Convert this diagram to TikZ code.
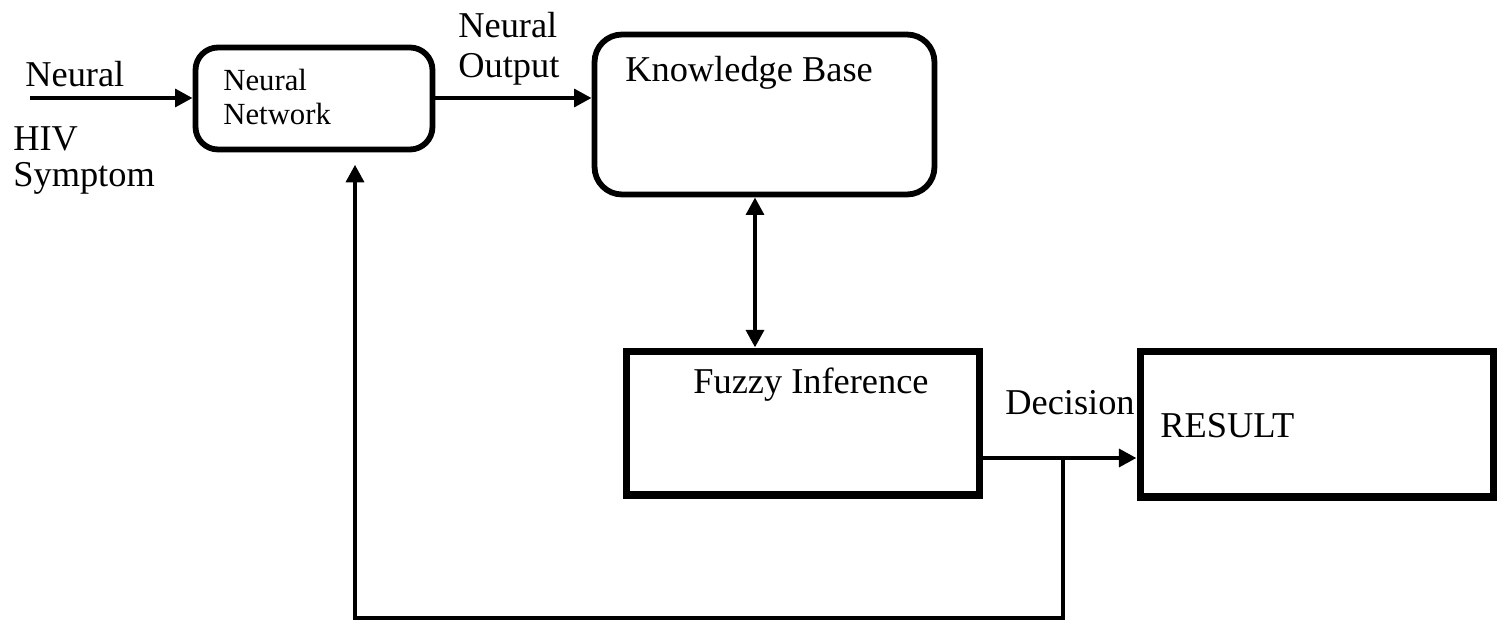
\documentclass[tikz,border=0pt]{standalone}
\usepackage{fontspec}
\setmainfont{Liberation Serif}
\usetikzlibrary{arrows.meta, calc}
\tikzstyle{roundbox} = [draw, rectangle, line width=3.3pt, rounded corners=0.45cm, inner sep=0pt]
\tikzstyle{plainbox} = [draw, rectangle, line width=4pt, minimum width=7.08cm, inner sep=0pt]
\tikzstyle{txt} = [anchor=base west, inner sep=0pt, align=left, font=\fontsize{20.7}{22.5}\selectfont]
\tikzstyle{arrow} = [line width=2.8pt, -{Triangle[length=10pt,width=10pt]}]

\begin{document}
\begin{tikzpicture}[x=0.02cm, y=-0.02cm]
    \useasboundingbox (0,0) rectangle (1509,625);
    % boxes
    \node [roundbox, minimum width=4.74cm, minimum height=2.04cm] at (314,98.5) (nn) {};
    \node [roundbox, minimum width=6.8cm, minimum height=3.2cm, rounded corners=0.55cm] at (764.5,114.5) (kb) {};
    \node [plainbox, minimum height=2.88cm] at (803,423) (fi) {};
    \node [plainbox, minimum height=2.92cm] at (1317,424) (res) {};
    % texts
    \node [txt, font=\fontsize{17.5}{19.8}\selectfont] at (223,125) (nnlbl) {Neural\\Network};
    \node [txt] at (625,82) (kblbl) {Knowledge Base};
    \node [txt] at (693,393) (filbl) {Fuzzy Inference};
    \node [txt] at (1160,437) (reslbl) {RESULT};
    \node [txt] at (25,87) (inlbl) {Neural};
    \node [txt, font=\fontsize{20.7}{21}\selectfont] at (13,187) (symlbl) {HIV\\Symptom};
    \node [txt, font=\fontsize{20.7}{23.2}\selectfont] at (458,78) (outlbl) {Neural\\Output};
    \node [txt] at (1005,414) (declbl) {Decision};
    % connectors
    \coordinate (in) at (30,98);
    \coordinate (split) at (1063,458);
    \coordinate (fb) at (355,618);
    \draw [arrow] (in) -- (in -| nn.west);
    \draw [arrow] (nn.east |- in) -- (in -| kb.west);
    \draw [arrow, {Triangle[length=10pt,width=10pt]}-{Triangle[length=10pt,width=10pt]}] ($(kb.south)+(-9.5,0)$) -- ($(fi.north)+(-48,0)$);
    \draw [arrow] (fi.east |- split) -- (res.west |- split);
    \draw [arrow, shorten >=7pt] (split) |- (fb) -- (fb |- nn.south);
\end{tikzpicture}
\end{document}
